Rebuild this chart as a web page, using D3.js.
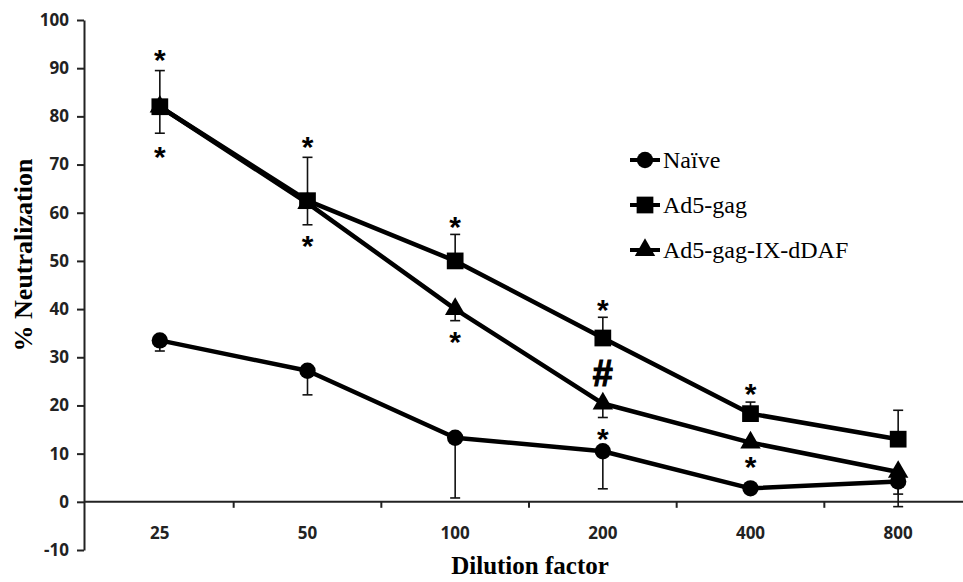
<!DOCTYPE html>
<html><head><meta charset="utf-8">
<script src="https://cdn.jsdelivr.net/npm/d3@7"></script>
<style>body{margin:0;background:#fff}svg{display:block}</style></head>
<body>
<svg id="c" width="963" height="582"></svg>
<script>
// ---- data ----
const categories = ["25", "50", "100", "200", "400", "800"];
const seriesNames = ["Naïve", "Ad5-gag", "Ad5-gag-IX-dDAF"];
const naiveValues = [33.5, 27.2, 13.3, 10.5, 2.8, 4.2];
const naiveLow    = [31.3, 22.2, 0.8, 2.7, 2.8, -1.0];
const ad5gagValues = [82.0, 62.5, 50.0, 34.0, 18.3, 13.0];
const ad5gagHigh   = [89.5, 71.5, 55.5, 38.3, 20.7, 19.0];
const ad5gagLow    = [76.5, 57.5, 50.0, 34.0, 18.3, 13.0];
const dDAFValues = [82.0, 62.0, 40.0, 20.4, 12.3, 6.2];
const dDAFLow    = [82.0, 62.0, 37.6, 17.5, 12.3, 1.6];
const yTicks = [-10, 0, 10, 20, 30, 40, 50, 60, 70, 80, 90, 100];
const annoCats   = ["25", "25", "50", "50", "100", "100", "200", "200", "200", "400", "400"];
const annoValues = [93.2, 73.1, 75.1, 54.6, 58.5, 34.7, 41.3, 26.8, 14.5, 23.9, 8.7];
const annoTexts  = ["*", "*", "*", "*", "*", "*", "*", "#", "*", "*", "*"];

// ---- layout ----
const svg = d3.select("#c");
const x = d3.scaleBand().domain(categories).range([86, 972]);
const y = d3.scaleLinear().domain([-10, 100]).range([550, 20]);
const cx = c => x(c) + x.bandwidth() / 2;
const tickFont = "'Open Sans', 'Liberation Sans', sans-serif";
const serif = "'Liberation Serif', 'DejaVu Serif', serif";

// y axis
const yAxis = svg.append("g").attr("transform", "translate(84,0)")
  .call(d3.axisLeft(y).tickValues(yTicks).tickFormat(d => String(d))
    .tickSize(7).tickSizeOuter(0).tickPadding(8));
yAxis.select(".domain").attr("stroke", "#222").attr("stroke-width", 2);
yAxis.selectAll(".tick line").attr("stroke", "#222").attr("stroke-width", 2);
yAxis.selectAll(".tick text").attr("font-family", tickFont).attr("font-weight", 700)
  .attr("font-size", 17).attr("fill", "#222");

// x axis at y=0
const xAxisG = svg.append("g").attr("transform", `translate(0,${y(0)})`);
xAxisG.append("line").attr("x1", 84).attr("x2", 963).attr("y1", 0).attr("y2", 0)
  .attr("stroke", "#222").attr("stroke-width", 2);
const xLabels = svg.append("g").attr("transform", `translate(0,${y(0)})`)
  .call(d3.axisBottom(x).tickSize(0).tickPadding(25));
xLabels.select(".domain").remove();
xLabels.selectAll(".tick text").attr("font-family", tickFont).attr("font-weight", 700)
  .attr("font-size", 17).attr("fill", "#222");
xAxisG.selectAll(".xt").data(categories.slice(1)).enter().append("line")
  .attr("x1", d => x(d)).attr("x2", d => x(d)).attr("y1", 0).attr("y2", 6)
  .attr("stroke", "#222").attr("stroke-width", 2);

// axis titles
svg.append("text").attr("x", 530).attr("y", 574).attr("text-anchor", "middle")
  .attr("font-family", serif).attr("font-weight", 700).attr("font-size", 25)
  .text("Dilution factor");
svg.append("text").attr("transform", "translate(32,255) rotate(-90)").attr("text-anchor", "middle")
  .attr("font-family", serif).attr("font-weight", 700).attr("font-size", 26)
  .text("% Neutralization");

// ---- series ----
const series = [
  {name: seriesNames[0], vals: naiveValues, hi: naiveValues, lo: naiveLow, shape: "circle"},
  {name: seriesNames[1], vals: ad5gagValues, hi: ad5gagHigh, lo: ad5gagLow, shape: "square"},
  {name: seriesNames[2], vals: dDAFValues, hi: dDAFValues, lo: dDAFLow, shape: "triangle"}
];
const symFor = s => s === "circle" ? d3.symbol(d3.symbolCircle, 210)
  : s === "square" ? d3.symbol(d3.symbolSquare, 280) : d3.symbol(d3.symbolTriangle, 180);

// error bars
series.forEach(s => {
  const g = svg.append("g").attr("stroke", "#111").attr("stroke-width", 1.6);
  categories.forEach((c, i) => {
    [s.hi[i], s.lo[i]].forEach(e => {
      if (Math.abs(e - s.vals[i]) < 0.01) return;
      g.append("line").attr("x1", cx(c)).attr("x2", cx(c)).attr("y1", y(s.vals[i])).attr("y2", y(e));
      g.append("line").attr("x1", cx(c) - 5).attr("x2", cx(c) + 5).attr("y1", y(e)).attr("y2", y(e));
    });
  });
});

const line = d3.line().x(d => cx(d.c)).y(d => y(d.v));
series.forEach(s => {
  svg.append("path").datum(categories.map((c, i) => ({c, v: s.vals[i]})))
    .attr("d", line).attr("fill", "none").attr("stroke", "#000").attr("stroke-width", 4.5)
    .attr("stroke-linejoin", "round");
});
series.forEach(s => {
  svg.append("g").selectAll("path").data(categories.map((c, i) => ({c, v: s.vals[i]})))
    .enter().append("path").attr("d", symFor(s.shape)())
    .attr("transform", d => `translate(${cx(d.c)},${y(d.v)})`).attr("fill", "#000");
});

// annotations
svg.append("g").selectAll("text").data(annoTexts.map((t, i) => ({t, c: annoCats[i], v: annoValues[i]})))
  .enter().append("text")
  .attr("x", d => cx(d.c)).attr("y", d => y(d.v) + (d.t === "#" ? 13 : 17))
  .attr("text-anchor", "middle").attr("font-family", "'Liberation Sans', Arial, sans-serif")
  .attr("font-weight", 700)
  .attr("stroke", d => d.t === "#" ? "#000" : "none").attr("stroke-width", 1.2)
  .attr("font-size", d => d.t === "#" ? 36 : 30).text(d => d.t);

// legend
const legY = [160, 205, 250];
const leg = svg.append("g");
series.forEach((s, i) => {
  const g = leg.append("g").attr("transform", `translate(630,${legY[i]})`);
  g.append("line").attr("x1", 0).attr("x2", 30).attr("stroke", "#000").attr("stroke-width", 4);
  g.append("path").attr("d", symFor(s.shape)()).attr("transform", "translate(15,0)");
  g.append("text").attr("x", 33).attr("y", 8).attr("font-family", serif).attr("font-size", 24)
    .text(s.name);
});
</script>
</body></html>
